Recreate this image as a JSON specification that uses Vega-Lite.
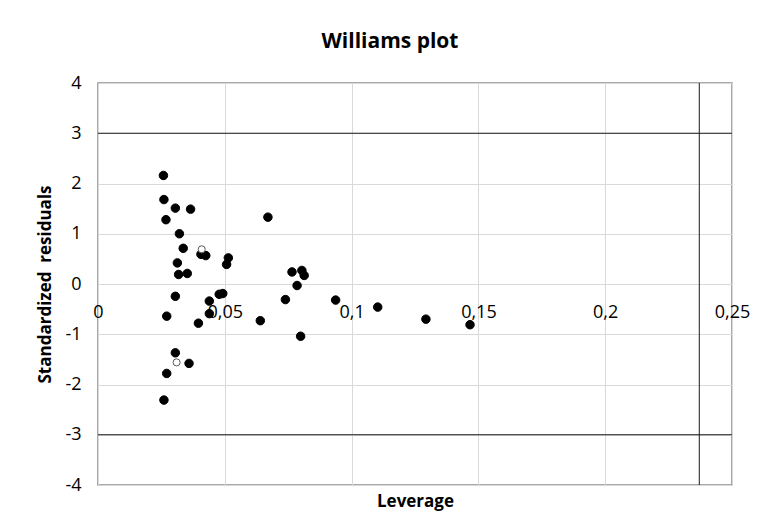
{
  "$schema": "https://vega.github.io/schema/vega-lite/v6.json",
  "width": 634,
  "height": 402,
  "autosize": {"type": "none"},
  "padding": {"left": 98, "top": 83, "right": 28, "bottom": 43},
  "background": "white",
  "title": {
    "text": "Williams plot",
    "font": "Open Sans",
    "fontSize": 21,
    "fontWeight": "bold",
    "color": "#000000",
    "anchor": "middle",
    "frame": "group",
    "baseline": "alphabetic",
    "offset": 5,
    "dx": -25
  },
  "config": {
    "view": {"stroke": "#8c8c8c", "strokeWidth": 1.5},
    "axis": {
      "labelFont": "Open Sans",
      "labelFontSize": 18,
      "labelColor": "#000000",
      "titleFont": "Open Sans",
      "titleFontWeight": "bold",
      "titleFontSize": 17,
      "titleColor": "#000000",
      "gridColor": "#d9d9d9",
      "gridWidth": 1,
      "domain": false,
      "ticks": false
    }
  },
  "datasets": {
    "points": [
      {"leverage": 0.0258, "residual": 2.16, "set": "training"},
      {"leverage": 0.0260, "residual": 1.68, "set": "training"},
      {"leverage": 0.0305, "residual": 1.51, "set": "training"},
      {"leverage": 0.0365, "residual": 1.49, "set": "training"},
      {"leverage": 0.0268, "residual": 1.28, "set": "training"},
      {"leverage": 0.0670, "residual": 1.33, "set": "training"},
      {"leverage": 0.0321, "residual": 1.00, "set": "training"},
      {"leverage": 0.0336, "residual": 0.71, "set": "training"},
      {"leverage": 0.0406, "residual": 0.59, "set": "training"},
      {"leverage": 0.0425, "residual": 0.565, "set": "training"},
      {"leverage": 0.0514, "residual": 0.52, "set": "training"},
      {"leverage": 0.0507, "residual": 0.39, "set": "training"},
      {"leverage": 0.0313, "residual": 0.42, "set": "training"},
      {"leverage": 0.0318, "residual": 0.19, "set": "training"},
      {"leverage": 0.0352, "residual": 0.21, "set": "training"},
      {"leverage": 0.0305, "residual": -0.245, "set": "training"},
      {"leverage": 0.0271, "residual": -0.64, "set": "training"},
      {"leverage": 0.0439, "residual": -0.34, "set": "training"},
      {"leverage": 0.0439, "residual": -0.59, "set": "training"},
      {"leverage": 0.0396, "residual": -0.78, "set": "training"},
      {"leverage": 0.0478, "residual": -0.205, "set": "training"},
      {"leverage": 0.0492, "residual": -0.19, "set": "training"},
      {"leverage": 0.0640, "residual": -0.73, "set": "training"},
      {"leverage": 0.0739, "residual": -0.31, "set": "training"},
      {"leverage": 0.0305, "residual": -1.37, "set": "training"},
      {"leverage": 0.0359, "residual": -1.58, "set": "training"},
      {"leverage": 0.0271, "residual": -1.78, "set": "training"},
      {"leverage": 0.0260, "residual": -2.31, "set": "training"},
      {"leverage": 0.0765, "residual": 0.24, "set": "training"},
      {"leverage": 0.0804, "residual": 0.27, "set": "training"},
      {"leverage": 0.0813, "residual": 0.17, "set": "training"},
      {"leverage": 0.0785, "residual": -0.03, "set": "training"},
      {"leverage": 0.0937, "residual": -0.32, "set": "training"},
      {"leverage": 0.0799, "residual": -1.04, "set": "training"},
      {"leverage": 0.1103, "residual": -0.46, "set": "training"},
      {"leverage": 0.1293, "residual": -0.70, "set": "training"},
      {"leverage": 0.1467, "residual": -0.81, "set": "training"},
      {"leverage": 0.0409, "residual": 0.69, "set": "test"},
      {"leverage": 0.0310, "residual": -1.56, "set": "test"}
    ],
    "hlines": [{"residual": 3}, {"residual": -3}],
    "vline": [{"leverage": 0.2371}]
  },
  "layer": [
    {
      "data": {"name": "hlines"},
      "mark": {"type": "rule", "color": "#1a1a1a", "strokeWidth": 1},
      "encoding": {
        "y": {
          "field": "residual",
          "type": "quantitative",
          "scale": {"domain": [-4, 4], "nice": false},
          "axis": {
            "values": [-4, -3, -2, -1, 0, 1, 2, 3, 4],
            "labelExpr": "replace(datum.label, '\u2212', '-')",
            "title": "Standardized\u00a0 residuals",
            "labelPadding": 17,
            "titlePadding": 10,
            "grid": true
          }
        }
      }
    },
    {
      "data": {"name": "vline"},
      "mark": {"type": "rule", "color": "#1a1a1a", "strokeWidth": 1},
      "encoding": {
        "x": {
          "field": "leverage",
          "type": "quantitative",
          "scale": {"domain": [0, 0.25], "nice": false},
          "axis": {
            "values": [0, 0.05, 0.1, 0.15, 0.2, 0.25],
            "format": ".2~f",
            "labelExpr": "replace(datum.label, '.', ',')",
            "grid": true,
            "offset": -201,
            "labelPadding": 19,
            "labelFlush": false,
            "labelOverlap": false,
            "title": "Leverage",
            "titlePadding": 172
          }
        }
      }
    },
    {
      "data": {"name": "points"},
      "mark": {"type": "point", "filled": false, "opacity": 1},
      "encoding": {
        "x": {"field": "leverage", "type": "quantitative"},
        "y": {"field": "residual", "type": "quantitative"},
        "shape": {"value": "circle"},
        "size": {
          "field": "set",
          "type": "nominal",
          "scale": {"domain": ["training", "test"], "range": [72, 50]},
          "legend": null
        },
        "fill": {
          "field": "set",
          "type": "nominal",
          "scale": {"domain": ["training", "test"], "range": ["#000000", "#ffffff"]},
          "legend": null
        },
        "stroke": {
          "field": "set",
          "type": "nominal",
          "scale": {"domain": ["training", "test"], "range": ["#000000", "#595959"]},
          "legend": null
        },
        "strokeWidth": {"value": 1}
      }
    }
  ]
}
